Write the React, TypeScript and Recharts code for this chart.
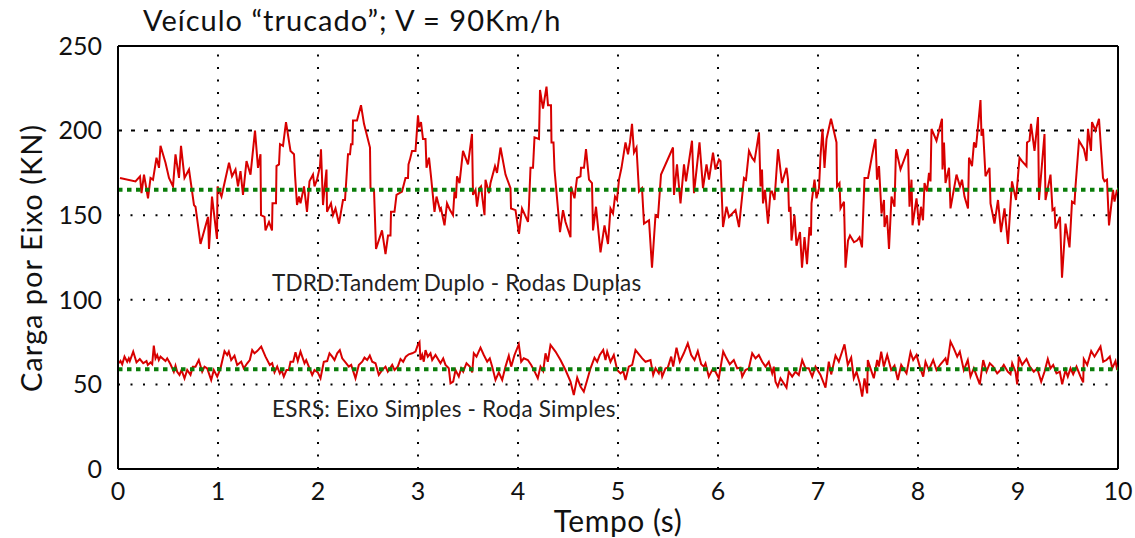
import { LineChart, Line, XAxis, YAxis, ReferenceLine } from "recharts";

// TDRD (tandem duplo - rodas duplas), time in s / load in kN
const tdrdTime = [
  0.02, 0.175, 0.22, 0.235, 0.26, 0.3, 0.325, 0.35, 0.385, 0.41, 0.425, 0.475, 0.51, 0.55, 0.575, 0.61, 0.63, 0.665, 0.71, 0.76,
  0.775, 0.825, 0.9, 0.91, 0.94, 0.99, 0.995, 1.035, 1.11, 1.14, 1.175, 1.2, 1.225, 1.25, 1.285, 1.325, 1.37, 1.4, 1.425, 1.43,
  1.465, 1.475, 1.51, 1.54, 1.545, 1.58, 1.585, 1.61, 1.62, 1.65, 1.68, 1.725, 1.76, 1.77, 1.79, 1.81, 1.825, 1.86, 1.89, 1.915,
  1.95, 1.965, 1.99, 2.02, 2.03, 2.05, 2.065, 2.085, 2.09, 2.13, 2.15, 2.175, 2.21, 2.25, 2.27, 2.3, 2.32, 2.33, 2.345, 2.35,
  2.39, 2.43, 2.46, 2.52, 2.525, 2.56, 2.58, 2.64, 2.675, 2.7, 2.725, 2.73, 2.765, 2.785, 2.84, 2.875, 2.9, 2.905, 2.92, 2.94,
  2.975, 3.0, 3.01, 3.03, 3.05, 3.075, 3.085, 3.11, 3.13, 3.165, 3.185, 3.22, 3.23, 3.265, 3.29, 3.32, 3.35, 3.365, 3.38, 3.39,
  3.415, 3.45, 3.5, 3.54, 3.55, 3.575, 3.59, 3.615, 3.63, 3.665, 3.675, 3.71, 3.725, 3.77, 3.79, 3.825, 3.875, 3.925, 3.93, 3.975,
  4.01, 4.04, 4.1, 4.11, 4.125, 4.15, 4.165, 4.21, 4.22, 4.25, 4.285, 4.3, 4.33, 4.335, 4.355, 4.365, 4.42, 4.45, 4.475, 4.525,
  4.53, 4.565, 4.59, 4.625, 4.63, 4.66, 4.68, 4.71, 4.74, 4.75, 4.78, 4.825, 4.865, 4.9, 4.925, 4.95, 4.97, 4.99, 5.01, 5.035,
  5.075, 5.1, 5.12, 5.14, 5.16, 5.185, 5.21, 5.24, 5.26, 5.31, 5.34, 5.375, 5.4, 5.43, 5.55, 5.56, 5.59, 5.625, 5.66, 5.68,
  5.74, 5.76, 5.815, 5.85, 5.885, 5.91, 5.95, 5.975, 6.01, 6.025, 6.05, 6.085, 6.11, 6.175, 6.21, 6.26, 6.28, 6.31, 6.34, 6.365,
  6.41, 6.425, 6.44, 6.45, 6.47, 6.5, 6.525, 6.54, 6.565, 6.6, 6.64, 6.685, 6.7, 6.71, 6.725, 6.735, 6.765, 6.785, 6.82, 6.84,
  6.865, 6.89, 6.915, 6.93, 6.935, 6.965, 6.985, 7.01, 7.025, 7.045, 7.065, 7.085, 7.13, 7.185, 7.19, 7.215, 7.225, 7.26, 7.275, 7.3,
  7.32, 7.36, 7.39, 7.415, 7.44, 7.465, 7.5, 7.54, 7.56, 7.575, 7.59, 7.61, 7.635, 7.66, 7.665, 7.69, 7.71, 7.735, 7.765, 7.78,
  7.825, 7.9, 7.915, 7.935, 7.945, 7.985, 8.01, 8.03, 8.05, 8.065, 8.09, 8.11, 8.125, 8.135, 8.185, 8.24, 8.245, 8.26, 8.275, 8.31,
  8.325, 8.385, 8.42, 8.44, 8.465, 8.5, 8.51, 8.54, 8.56, 8.58, 8.625, 8.635, 8.65, 8.675, 8.715, 8.725, 8.765, 8.8, 8.83, 8.865,
  8.9, 8.94, 8.98, 9.015, 9.04, 9.085, 9.09, 9.115, 9.13, 9.165, 9.2, 9.21, 9.265, 9.275, 9.325, 9.345, 9.365, 9.375, 9.42, 9.44,
  9.475, 9.515, 9.54, 9.565, 9.575, 9.61, 9.66, 9.685, 9.7, 9.73, 9.74, 9.775, 9.81, 9.85, 9.865, 9.89, 9.91, 9.95, 9.965, 9.99,
];
const tdrdLoad = [
  172, 170, 173, 163, 174, 160, 172, 171, 184, 178, 191, 181, 172, 167, 186, 172, 191, 172, 177, 156,
  155, 133, 149, 130, 161, 136, 167, 161, 181, 173, 177, 167, 176, 162, 182, 174, 200, 178, 186, 150,
  149, 141, 146, 141, 157, 157, 179, 180, 192, 191, 205, 188, 186, 174, 156, 161, 157, 167, 152, 170,
  174, 167, 171, 179, 189, 156, 166, 177, 152, 157, 150, 154, 145, 159, 159, 186, 186, 192, 192, 206,
  206, 215, 204, 190, 166, 165, 130, 141, 127, 138, 138, 152, 152, 162, 164, 172, 172, 180, 183, 188,
  188, 209, 202, 205, 195, 195, 178, 184, 173, 152, 161, 153, 154, 144, 157, 153, 150, 164, 160, 173,
  169, 188, 180, 198, 162, 165, 155, 166, 167, 150, 171, 163, 169, 179, 175, 190, 174, 166, 154, 153,
  139, 154, 146, 156, 178, 178, 196, 195, 224, 213, 226, 215, 215, 193, 193, 177, 140, 153, 146, 137,
  167, 160, 172, 173, 178, 178, 189, 171, 169, 141, 155, 128, 144, 133, 154, 151, 161, 159, 171, 178,
  193, 186, 193, 204, 187, 190, 164, 166, 145, 147, 119, 150, 149, 174, 190, 162, 180, 157, 180, 170,
  194, 163, 193, 166, 180, 171, 187, 177, 183, 182, 143, 155, 149, 153, 143, 172, 171, 188, 184, 182,
  199, 167, 177, 157, 165, 145, 164, 164, 159, 189, 169, 178, 171, 152, 155, 135, 150, 132, 140, 119,
  137, 121, 143, 138, 157, 171, 160, 166, 185, 201, 178, 195, 207, 193, 167, 169, 154, 158, 119, 135,
  138, 134, 135, 137, 131, 172, 172, 185, 191, 195, 171, 179, 151, 159, 143, 150, 130, 161, 155, 189,
  177, 189, 155, 171, 144, 160, 144, 155, 147, 169, 164, 175, 170, 201, 194, 207, 177, 193, 169, 178,
  154, 174, 167, 171, 161, 154, 184, 179, 193, 190, 218, 197, 201, 173, 178, 157, 145, 159, 140, 154,
  133, 170, 159, 184, 182, 179, 193, 194, 204, 188, 208, 159, 198, 159, 174, 153, 154, 142, 149, 113,
  145, 131, 158, 157, 167, 194, 189, 182, 201, 188, 205, 200, 207, 172, 170, 171, 144, 165, 158, 165,
];

// ESRS (eixo simples - roda simples)
const esrsTime = [
  0.01, 0.025, 0.042, 0.065, 0.092, 0.108, 0.118, 0.152, 0.185, 0.218, 0.252, 0.285, 0.298, 0.325, 0.342, 0.358, 0.375, 0.392, 0.408, 0.425,
  0.475, 0.492, 0.525, 0.558, 0.575, 0.592, 0.615, 0.635, 0.665, 0.692, 0.725, 0.748, 0.775, 0.808, 0.842, 0.865, 0.892, 0.932, 0.958, 0.992,
  1.025, 1.065, 1.092, 1.108, 1.132, 1.165, 1.192, 1.232, 1.258, 1.292, 1.318, 1.342, 1.365, 1.392, 1.432, 1.475, 1.518, 1.542, 1.565, 1.592,
  1.618, 1.635, 1.658, 1.685, 1.708, 1.725, 1.752, 1.775, 1.798, 1.825, 1.865, 1.882, 1.908, 1.942, 1.965, 1.998, 2.025, 2.058, 2.092, 2.115,
  2.142, 2.165, 2.192, 2.218, 2.242, 2.275, 2.308, 2.332, 2.375, 2.408, 2.442, 2.465, 2.492, 2.518, 2.542, 2.575, 2.608, 2.642, 2.675, 2.698,
  2.742, 2.765, 2.798, 2.825, 2.852, 2.878, 2.908, 2.942, 2.975, 2.998, 3.015, 3.025, 3.042, 3.058, 3.075, 3.098, 3.125, 3.142, 3.175, 3.225,
  3.252, 3.275, 3.308, 3.325, 3.352, 3.375, 3.408, 3.432, 3.452, 3.485, 3.518, 3.542, 3.558, 3.585, 3.625, 3.658, 3.692, 3.718, 3.742, 3.775,
  3.808, 3.842, 3.875, 3.908, 3.932, 3.965, 4.008, 4.032, 4.058, 4.098, 4.132, 4.175, 4.198, 4.225, 4.252, 4.275, 4.298, 4.325, 4.375, 4.425,
  4.475, 4.525, 4.558, 4.592, 4.625, 4.658, 4.692, 4.725, 4.765, 4.792, 4.818, 4.852, 4.875, 4.892, 4.925, 4.958, 4.992, 5.025, 5.052, 5.075,
  5.108, 5.142, 5.175, 5.242, 5.275, 5.325, 5.352, 5.375, 5.408, 5.425, 5.442, 5.475, 5.498, 5.532, 5.552, 5.585, 5.618, 5.658, 5.698, 5.732,
  5.765, 5.798, 5.832, 5.858, 5.875, 5.908, 5.942, 5.975, 6.008, 6.052, 6.085, 6.118, 6.158, 6.192, 6.225, 6.242, 6.275, 6.308, 6.342, 6.375,
  6.408, 6.442, 6.475, 6.508, 6.542, 6.558, 6.575, 6.598, 6.625, 6.685, 6.708, 6.742, 6.775, 6.808, 6.842, 6.875, 6.908, 6.942, 6.975, 7.025,
  7.075, 7.108, 7.132, 7.175, 7.208, 7.265, 7.298, 7.332, 7.358, 7.385, 7.418, 7.442, 7.465, 7.492, 7.498, 7.525, 7.558, 7.592, 7.608, 7.632,
  7.658, 7.692, 7.732, 7.765, 7.798, 7.832, 7.852, 7.885, 7.925, 7.952, 7.985, 8.018, 8.052, 8.075, 8.108, 8.152, 8.185, 8.225, 8.275, 8.292,
  8.325, 8.358, 8.392, 8.418, 8.458, 8.498, 8.525, 8.558, 8.618, 8.652, 8.685, 8.718, 8.752, 8.792, 8.825, 8.858, 8.898, 8.925, 8.942, 8.975,
  8.992, 9.008, 9.042, 9.085, 9.118, 9.158, 9.192, 9.232, 9.265, 9.298, 9.325, 9.352, 9.385, 9.418, 9.442, 9.475, 9.498, 9.525, 9.552, 9.585,
  9.625, 9.652, 9.658, 9.692, 9.732, 9.765, 9.825, 9.852, 9.885, 9.918, 9.942, 9.975, 9.992,
];
const esrsLoad = [
  62.5, 63.8, 61.9, 66.4, 63.4, 65.4, 63.8, 69.4, 63.0, 65.0, 62.5, 63.8, 61.5, 63.0, 61.9, 72.9, 65.4, 67.4, 64.4, 66.4,
  63.8, 65.4, 61.9, 57.5, 61.1, 57.5, 55.6, 58.5, 53.6, 58.5, 55.6, 60.5, 60.5, 64.4, 57.5, 60.5, 59.5, 52.6, 58.5, 54.6,
  59.5, 69.7, 67.4, 69.4, 64.4, 67.0, 61.5, 63.4, 59.5, 62.5, 64.4, 70.3, 68.4, 69.7, 72.3, 66.4, 61.5, 62.5, 57.1, 60.5,
  56.5, 58.5, 54.6, 58.5, 58.5, 63.4, 63.4, 69.0, 63.8, 69.4, 62.5, 64.4, 60.5, 55.6, 58.5, 57.1, 53.6, 63.4, 63.8, 68.4,
  66.4, 64.4, 68.4, 70.3, 65.4, 63.0, 60.5, 61.5, 53.6, 61.5, 63.4, 65.8, 64.4, 67.0, 63.4, 62.5, 55.6, 58.5, 60.5, 57.5,
  61.5, 58.5, 60.5, 65.0, 63.4, 66.4, 67.8, 68.4, 69.4, 73.3, 74.9, 64.4, 67.4, 63.4, 70.3, 66.4, 68.4, 64.4, 67.4, 62.5,
  65.4, 61.5, 59.5, 50.6, 51.6, 58.5, 54.6, 59.5, 57.5, 62.5, 60.5, 57.1, 68.4, 66.4, 71.7, 67.4, 63.4, 65.4, 60.5, 52.6,
  57.1, 52.6, 60.5, 67.0, 60.5, 67.4, 73.7, 63.4, 65.4, 64.4, 61.5, 56.5, 53.6, 60.5, 57.9, 68.4, 63.4, 73.3, 69.4, 64.4,
  58.5, 51.6, 43.7, 54.0, 48.7, 45.7, 52.6, 59.5, 65.8, 63.4, 67.4, 70.3, 64.4, 69.4, 63.4, 67.4, 58.5, 56.5, 57.9, 52.6,
  60.5, 61.5, 70.3, 65.4, 63.4, 64.4, 55.6, 59.5, 56.5, 60.5, 54.6, 59.5, 59.9, 66.4, 60.5, 71.7, 63.4, 68.4, 74.3, 67.4,
  64.4, 69.7, 61.9, 60.5, 62.5, 54.6, 58.5, 57.5, 53.6, 69.4, 65.4, 61.9, 64.4, 59.5, 59.9, 54.6, 58.5, 59.5, 68.4, 65.4,
  67.4, 63.4, 60.5, 63.4, 56.5, 60.5, 51.6, 48.7, 53.6, 48.1, 57.5, 54.6, 57.5, 55.6, 64.4, 59.5, 59.5, 54.6, 60.5, 55.6,
  48.1, 63.4, 55.9, 67.0, 63.4, 73.7, 61.5, 65.8, 53.6, 57.5, 50.6, 42.8, 53.6, 44.7, 64.4, 59.5, 53.6, 64.4, 60.5, 69.4,
  60.5, 67.4, 58.5, 61.1, 52.6, 61.5, 59.5, 56.5, 69.0, 64.4, 67.4, 60.5, 54.6, 63.4, 58.5, 64.4, 58.5, 61.9, 65.4, 61.5,
  75.3, 71.3, 66.4, 69.4, 58.5, 64.4, 54.6, 59.5, 50.0, 64.4, 57.5, 62.5, 60.5, 56.5, 58.5, 61.5, 57.5, 56.0, 62.5, 57.5,
  50.0, 66.4, 61.5, 65.0, 60.5, 57.5, 59.5, 51.6, 57.5, 65.0, 59.5, 61.5, 56.5, 57.5, 50.0, 58.5, 54.6, 59.5, 56.0, 60.5,
  54.6, 51.2, 65.0, 61.5, 69.7, 66.4, 72.3, 63.4, 64.4, 66.4, 59.5, 63.8, 58.5,
];

const xTicks = [0, 1, 2, 3, 4, 5, 6, 7, 8, 9, 10];
const yTicks = [0, 50, 100, 150, 200, 250];
const tdrdMean = 165;
const esrsMean = 59;

const tdrdData = tdrdTime.map((t, i) => ({ t, v: tdrdLoad[i] }));
const esrsData = esrsTime.map((t, i) => ({ t, v: esrsLoad[i] }));

const FONT = "Lato, 'DejaVu Sans', sans-serif";
const tickStyle = { fontSize: 25, fill: "#111", fontFamily: FONT };
const dotted = "2 10.5";

const App = () => {
  return (
    <div style={{ position: "absolute", left: 0, top: 0, width: 1135, height: 538, background: "#fff", fontFamily: FONT }}>
      <LineChart width={1135} height={538} margin={{ top: 46, right: 17, bottom: 39, left: 0 }}>
        <XAxis
          type="number"
          dataKey="t"
          domain={[0, 10]}
          ticks={xTicks}
          allowDataOverflow
          axisLine={{ stroke: "#000", strokeWidth: 2 }}
          tickLine={false}
          tickSize={0}
          tickMargin={13}
          height={30}
          tick={tickStyle}
        />
        <YAxis
          type="number"
          domain={[0, 250]}
          ticks={yTicks}
          allowDataOverflow
          axisLine={{ stroke: "#000", strokeWidth: 2 }}
          tickLine={false}
          tickSize={0}
          tickMargin={16}
          width={118}
          tick={tickStyle}
        />
        {[50, 100, 150].map((y) => (
          <ReferenceLine key={"h" + y} y={y} stroke="#000" strokeWidth={2} strokeDasharray={dotted} />
        ))}
        <ReferenceLine y={200} stroke="#000" strokeWidth={2} strokeDasharray="4 9" />
        {[1, 2, 3, 4, 5, 6, 7, 8, 9].map((x) => (
          <ReferenceLine key={"v" + x} x={x} stroke="#000" strokeWidth={2} strokeDasharray={dotted} />
        ))}
        <ReferenceLine y={250} stroke="#000" strokeWidth={2} />
        <ReferenceLine x={10} stroke="#000" strokeWidth={2} />
        <Line data={tdrdData} dataKey="v" type="linear" stroke="#d80000" strokeWidth={2} dot={false} isAnimationActive={false} />
        <Line data={esrsData} dataKey="v" type="linear" stroke="#d80000" strokeWidth={2} dot={false} isAnimationActive={false} />
        <ReferenceLine y={tdrdMean} stroke="#0a7d0a" strokeWidth={4} strokeDasharray="4.5 4.5" />
        <ReferenceLine y={esrsMean} stroke="#0a7d0a" strokeWidth={4} strokeDasharray="4.5 4.5" />
      </LineChart>
      <div style={{ position: "absolute", left: 143, top: 2, fontSize: 29, letterSpacing: 1, color: "#111", whiteSpace: "nowrap" }}>
        Veículo “trucado”; V = 90Km/h
      </div>
      <div
        style={{
          position: "absolute",
          left: 30,
          top: 258,
          transform: "translate(-50%, -50%) rotate(-90deg)",
          fontSize: 29,
          letterSpacing: 1,
          color: "#111",
          whiteSpace: "nowrap",
        }}
      >
        Carga por Eixo (KN)
      </div>
      <div
        style={{
          position: "absolute",
          left: 618,
          top: 520,
          transform: "translate(-50%, -50%)",
          fontSize: 30,
          letterSpacing: 0.5,
          color: "#111",
          whiteSpace: "nowrap",
        }}
      >
        Tempo (s)
      </div>
      <div style={{ position: "absolute", left: 272, top: 269, fontSize: 22.5, letterSpacing: 0.2, color: "#222", whiteSpace: "nowrap" }}>
        TDRD:Tandem Duplo - Rodas Duplas
      </div>
      <div style={{ position: "absolute", left: 272, top: 395, fontSize: 22.5, letterSpacing: 0.2, color: "#222", whiteSpace: "nowrap" }}>
        ESRS: Eixo Simples - Roda Simples
      </div>
    </div>
  );
};

export default App;
